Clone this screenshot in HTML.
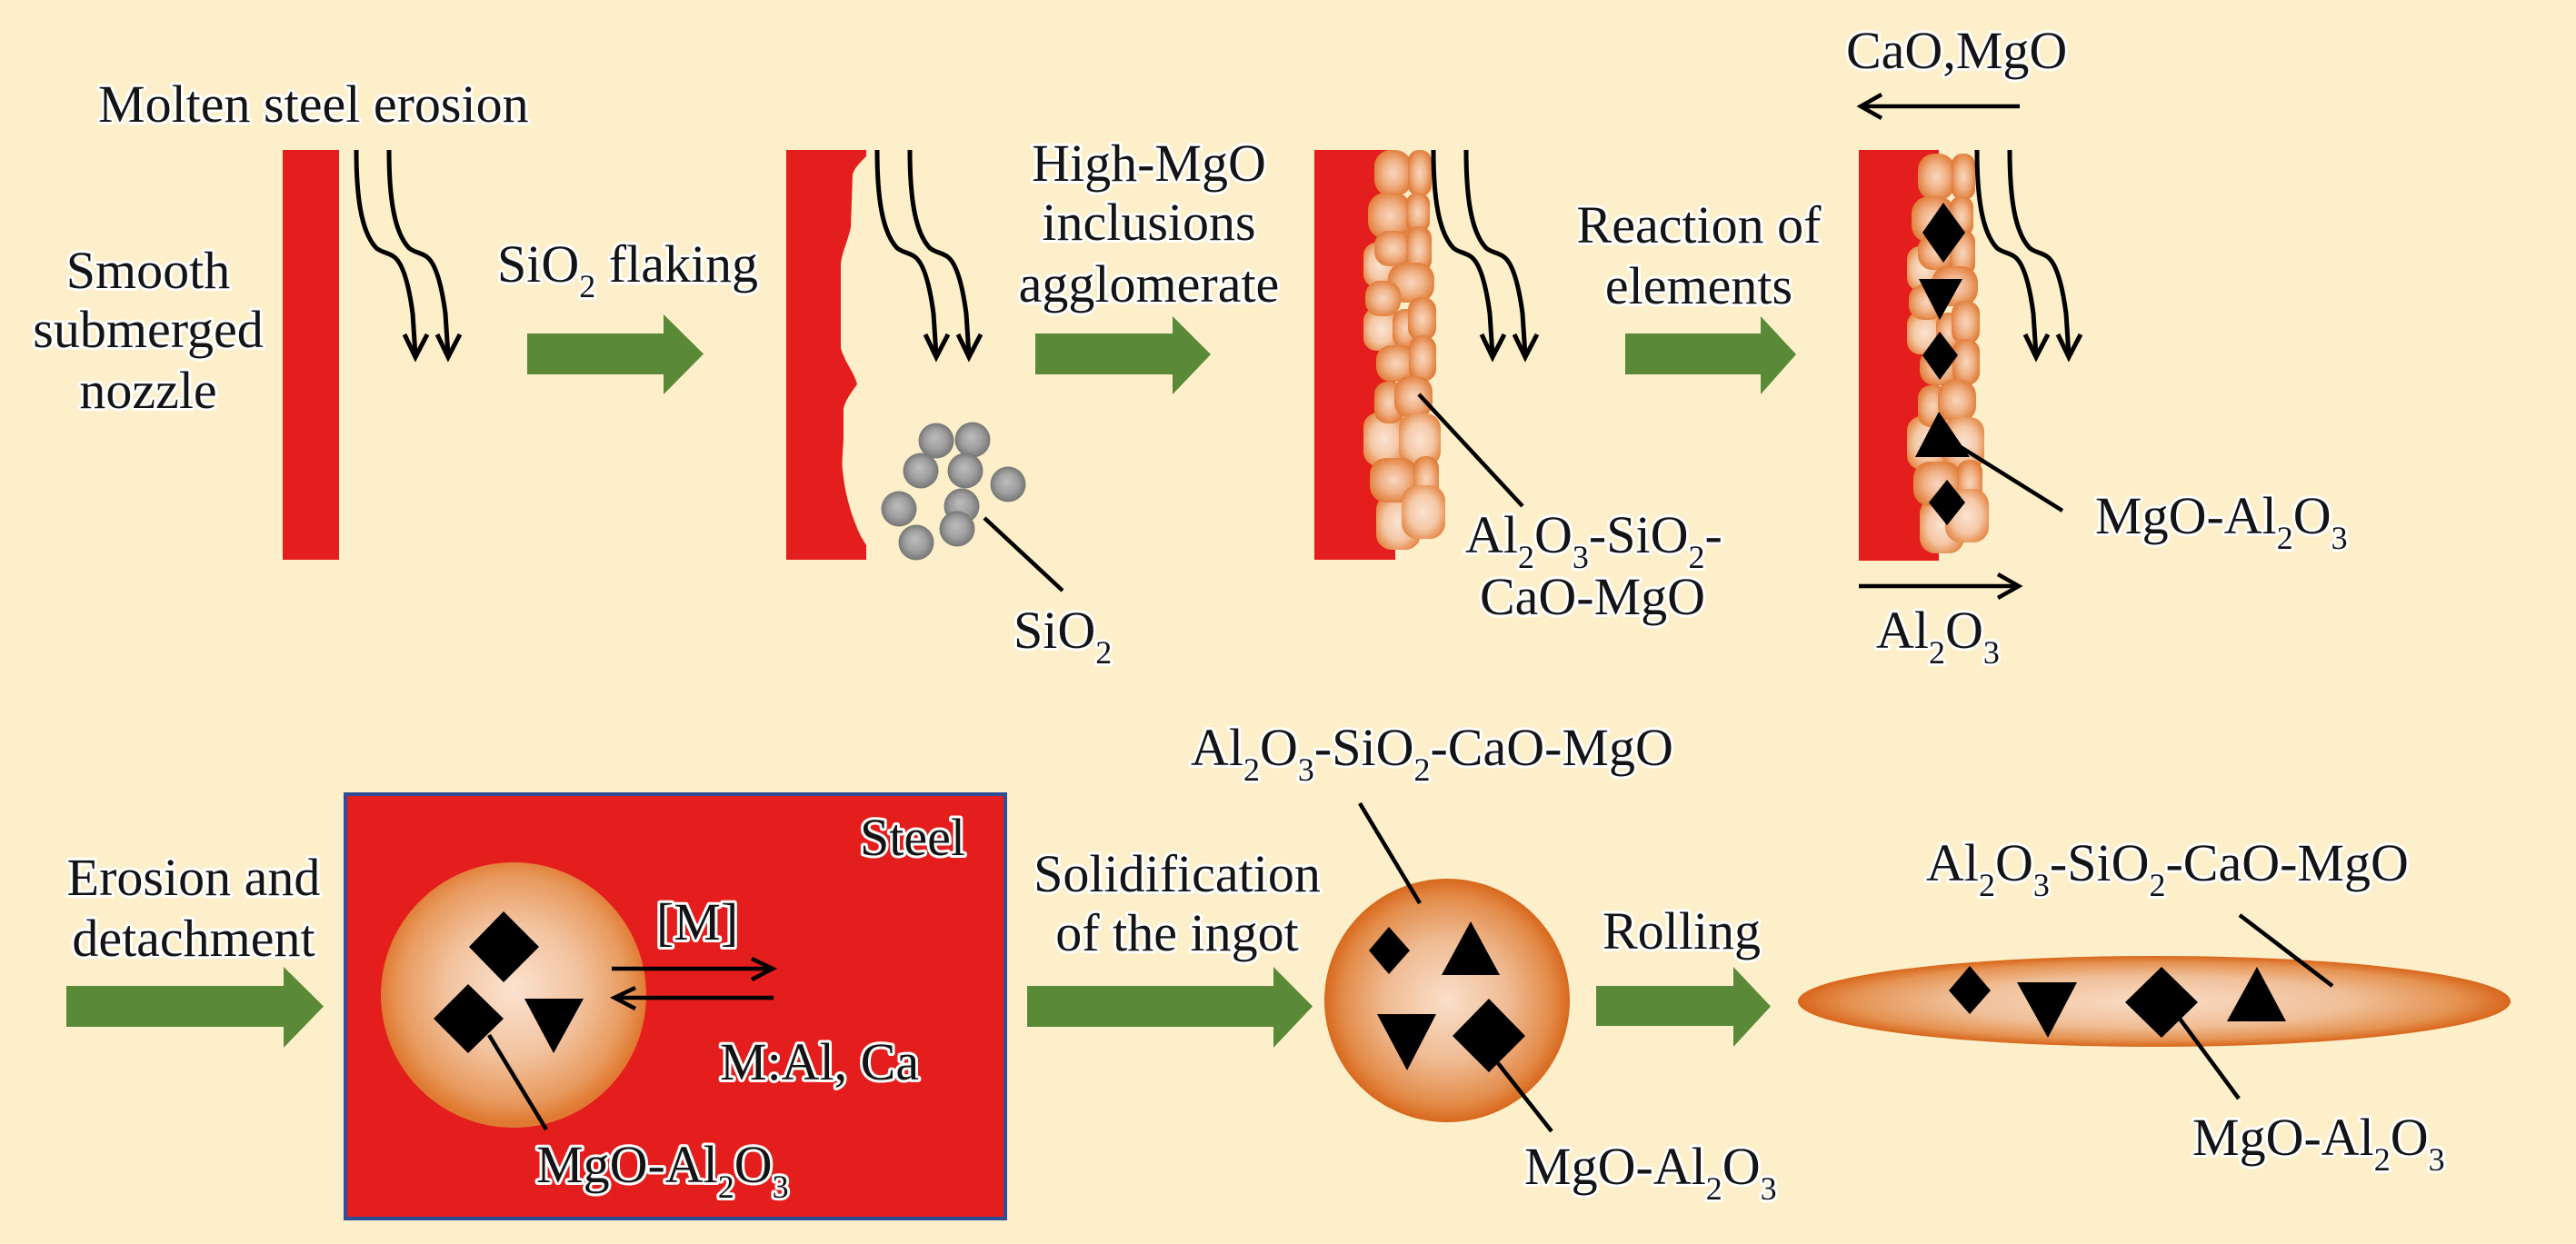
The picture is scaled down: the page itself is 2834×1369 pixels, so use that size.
<!DOCTYPE html>
<html>
<head>
<meta charset="utf-8">
<style>
  html,body{margin:0;padding:0;background:#fdefc9;}
  svg{display:block;}
  .t{font-family:"Liberation Serif","Times New Roman",serif;font-size:58px;fill:#141414;stroke:#ffffff;stroke-width:6px;paint-order:stroke;stroke-linejoin:round;}
  .s{font-size:36px;}
  .ln{stroke:#000;stroke-width:4.5;fill:none;stroke-linecap:butt;}
  .fl{stroke:#000;stroke-width:5;fill:none;}
</style>
</head>
<body>
<svg width="2834" height="1369" viewBox="0 0 2834 1369" xmlns="http://www.w3.org/2000/svg">
  <defs>
    <radialGradient id="bl" cx="50%" cy="50%" r="55%">
      <stop offset="0" stop-color="#f8d6bd"/>
      <stop offset="0.5" stop-color="#f0b287"/>
      <stop offset="1" stop-color="#e07a35"/>
    </radialGradient>
    <radialGradient id="bl2" cx="50%" cy="50%" r="55%">
      <stop offset="0" stop-color="#fbe4d2"/>
      <stop offset="0.6" stop-color="#f4c7a5"/>
      <stop offset="1" stop-color="#e68c4c"/>
    </radialGradient>
    <radialGradient id="gb" cx="50%" cy="50%" r="50%" fx="45%" fy="40%">
      <stop offset="0" stop-color="#bdbdbd"/>
      <stop offset="0.6" stop-color="#9e9e9e"/>
      <stop offset="1" stop-color="#767676"/>
    </radialGradient>
    <radialGradient id="ball" cx="50%" cy="48%" r="50%">
      <stop offset="0" stop-color="#fbe3d0"/>
      <stop offset="0.5" stop-color="#f2c39f"/>
      <stop offset="0.85" stop-color="#e89a5e"/>
      <stop offset="1" stop-color="#e07a32"/>
    </radialGradient>
    <radialGradient id="ball2" cx="50%" cy="50%" r="50%">
      <stop offset="0" stop-color="#fadfca"/>
      <stop offset="0.5" stop-color="#efbb93"/>
      <stop offset="0.85" stop-color="#e38c4a"/>
      <stop offset="1" stop-color="#d8681d"/>
    </radialGradient>
    <radialGradient id="ell" cx="50%" cy="50%" r="50%">
      <stop offset="0" stop-color="#f9dcc5"/>
      <stop offset="0.55" stop-color="#f0bf98"/>
      <stop offset="0.85" stop-color="#e59352"/>
      <stop offset="1" stop-color="#d8661c"/>
    </radialGradient>
    <g id="flow">
      <path class="fl" d="M0 0 C 0 50, 5 90, 22 108 C 28 113, 36 113, 42 118 C 52 126, 58 150, 62 180 L 65 226"/>
      <path class="fl" d="M53 203 L 65 228 L 78 203"/>
      <path class="fl" d="M36 0 C 36 50, 41 90, 58 108 C 64 113, 72 113, 78 118 C 88 126, 94 150, 98 180 L 101 226"/>
      <path class="fl" d="M89 203 L 101 228 L 114 203"/>
    </g>
    <g id="blobs">
      <rect x="1500" y="267" width="36" height="49" rx="14" fill="url(#bl2)"/>
      <rect x="1500" y="339" width="40" height="47" rx="14" fill="url(#bl2)"/>
      <rect x="1500" y="454" width="46" height="59" rx="16" fill="url(#bl2)"/>
      <rect x="1514" y="544" width="49" height="61" rx="17" fill="url(#bl2)"/>
      <rect x="1512" y="165" width="41" height="51" rx="18" fill="url(#bl)"/>
      <rect x="1549" y="165" width="26" height="51" rx="12" fill="url(#bl)"/>
      <rect x="1505" y="212" width="48" height="51" rx="19" fill="url(#bl)"/>
      <rect x="1547" y="212" width="26" height="44" rx="12" fill="url(#bl)"/>
      <rect x="1512" y="254" width="41" height="39" rx="16" fill="url(#bl)"/>
      <rect x="1547" y="249" width="28" height="51" rx="13" fill="url(#bl)"/>
      <rect x="1527" y="289" width="51" height="44" rx="18" fill="url(#bl)"/>
      <rect x="1502" y="309" width="39" height="39" rx="16" fill="url(#bl)"/>
      <rect x="1532" y="340" width="28" height="43" rx="13" fill="url(#bl)"/>
      <rect x="1549" y="327" width="31" height="48" rx="14" fill="url(#bl)"/>
      <rect x="1514" y="380" width="44" height="40" rx="16" fill="url(#bl)"/>
      <rect x="1550" y="369" width="30" height="51" rx="14" fill="url(#bl)"/>
      <rect x="1512" y="420" width="33" height="46" rx="14" fill="url(#bl)"/>
      <rect x="1534" y="414" width="42" height="46" rx="17" fill="url(#bl)"/>
      <rect x="1539" y="455" width="46" height="58" rx="16" fill="url(#bl2)"/>
      <rect x="1507" y="504" width="53" height="49" rx="18" fill="url(#bl)"/>
      <rect x="1555" y="502" width="28" height="51" rx="13" fill="url(#bl)"/>
      <rect x="1542" y="534" width="48" height="59" rx="17" fill="url(#bl2)"/>
    </g>
  </defs>

  <rect x="0" y="0" width="2834" height="1369" fill="#fdefc9"/>

  <!-- ===== TOP ROW ===== -->
  <text class="t" x="108" y="134">Molten steel erosion</text>
  <text class="t" x="163" y="317" text-anchor="middle">Smooth</text>
  <text class="t" x="163" y="382" text-anchor="middle">submerged</text>
  <text class="t" x="163" y="449" text-anchor="middle">nozzle</text>

  <!-- bar 1 -->
  <rect x="311" y="165" width="62" height="451" fill="#e41e1c"/>
  <use href="#flow" transform="translate(392,165)"/>

  <!-- arrow 1 -->
  <text class="t" x="547" y="310">SiO<tspan class="s" dy="17">2</tspan><tspan dy="-17"> flaking</tspan></text>
  <polygon points="580,367 730,367 730,346 774,389.5 730,434 730,412 580,412" fill="#5a8a38"/>

  <!-- bar 2 -->
  <path d="M865 165 L953 165 L953 172 C945 180,940 185,938 192 L936 250 C933 265,927 275,925 290 L925 383 C930 400,940 410,943 423 C938 430,930 440,928 450 L928 483 C927 500,926 510,927 517 C930 550,940 575,947 590 L953 600 L953 616 L865 616 Z" fill="#e41e1c"/>
  <use href="#flow" transform="translate(965,165)"/>
  <circle cx="1030" cy="485" r="19.5" fill="url(#gb)"/>
  <circle cx="1070" cy="484" r="19.5" fill="url(#gb)"/>
  <circle cx="1013" cy="518" r="19.5" fill="url(#gb)"/>
  <circle cx="1062" cy="518" r="19.5" fill="url(#gb)"/>
  <circle cx="1109" cy="533" r="19.5" fill="url(#gb)"/>
  <circle cx="989" cy="560" r="19.5" fill="url(#gb)"/>
  <circle cx="1058" cy="557" r="19.5" fill="url(#gb)"/>
  <circle cx="1053" cy="582" r="19.5" fill="url(#gb)"/>
  <circle cx="1008" cy="597" r="19.5" fill="url(#gb)"/>
  <line class="ln" x1="1083" y1="570" x2="1169" y2="650"/>
  <text class="t" x="1115" y="713">SiO<tspan class="s" dy="17">2</tspan></text>

  <!-- arrow 2 -->
  <text class="t" x="1264" y="199" text-anchor="middle">High-MgO</text>
  <text class="t" x="1264" y="264" text-anchor="middle">inclusions</text>
  <text class="t" x="1264" y="332" text-anchor="middle">agglomerate</text>
  <polygon points="1139,367 1290,367 1290,348 1332,390 1290,434 1290,412 1139,412" fill="#5a8a38"/>

  <!-- bar 3 -->
  <rect x="1446" y="165" width="89" height="451" fill="#e41e1c"/>
  <use href="#blobs"/>
  <use href="#flow" transform="translate(1577,165)"/>
  <line class="ln" x1="1561" y1="434" x2="1675" y2="557"/>
  <text class="t" x="1612" y="608">Al<tspan class="s" dy="17">2</tspan><tspan dy="-17">O</tspan><tspan class="s" dy="17">3</tspan><tspan dy="-17">-SiO</tspan><tspan class="s" dy="17">2</tspan><tspan dy="-17">-</tspan></text>
  <text class="t" x="1752" y="676" text-anchor="middle">CaO-MgO</text>

  <!-- arrow 3 -->
  <text class="t" x="1869" y="267" text-anchor="middle">Reaction of</text>
  <text class="t" x="1869" y="334" text-anchor="middle">elements</text>
  <polygon points="1788,367 1937,367 1937,348 1976,390 1937,434 1937,412 1788,412" fill="#5a8a38"/>

  <!-- bar 4 -->
  <text class="t" x="2031" y="75">CaO,MgO</text>
  <line class="ln" x1="2222" y1="117" x2="2048" y2="117"/>
  <path class="ln" d="M2070 104 L2047 117 L2070 130"/>
  <rect x="2045" y="165" width="88" height="452" fill="#e41e1c"/>
  <use href="#blobs" transform="translate(598,4)"/>
  <use href="#flow" transform="translate(2175,165)"/>
  <polygon points="2138,223 2162,256 2138,289 2115,256" fill="#000"/>
  <polygon points="2111,307 2159,307 2134,352" fill="#000"/>
  <polygon points="2134,365 2154,391 2134,418 2115,391" fill="#000"/>
  <polygon points="2133,453 2167,503 2107,503" fill="#000"/>
  <polygon points="2142,528 2162,553 2142,578 2122,553" fill="#000"/>
  <line class="ln" x1="2157" y1="492" x2="2269" y2="562"/>
  <text class="t" x="2305" y="587">MgO-Al<tspan class="s" dy="17">2</tspan><tspan dy="-17">O</tspan><tspan class="s" dy="17">3</tspan></text>
  <line class="ln" x1="2045" y1="645" x2="2220" y2="645"/>
  <path class="ln" d="M2198 632 L2221 645 L2198 658"/>
  <text class="t" x="2064" y="713">Al<tspan class="s" dy="17">2</tspan><tspan dy="-17">O</tspan><tspan class="s" dy="17">3</tspan></text>

  <!-- ===== BOTTOM ROW ===== -->
  <text class="t" x="213" y="985" text-anchor="middle">Erosion and</text>
  <text class="t" x="213" y="1052" text-anchor="middle">detachment</text>
  <polygon points="73,1085 312,1085 312,1064 356,1107.5 312,1153 312,1130 73,1130" fill="#5a8a38"/>

  <!-- steel box -->
  <rect x="380" y="874" width="726" height="467" fill="#e41e1c" stroke="#2b4e96" stroke-width="4"/>
  <text class="t" x="946" y="941">Steel</text>
  <circle cx="565" cy="1095" r="146" fill="url(#ball)"/>
  <polygon points="554,1003 593,1042 554,1081 516,1042" fill="#000"/>
  <polygon points="515,1083 554,1121 515,1159 477,1121" fill="#000"/>
  <polygon points="577,1099 642,1099 609,1159" fill="#000"/>
  <line class="ln" x1="538" y1="1139" x2="601" y2="1243"/>
  <text class="t" x="722" y="1034">[M]</text>
  <line class="ln" x1="673" y1="1066" x2="849" y2="1066"/>
  <path class="ln" d="M827 1055 L850 1066 L827 1078"/>
  <line class="ln" x1="677" y1="1098" x2="851" y2="1098"/>
  <path class="ln" d="M699 1087 L676 1098 L699 1110"/>
  <text class="t" x="792" y="1188">M:Al, Ca</text>
  <text class="t" x="590" y="1301">MgO-Al<tspan class="s" dy="17">2</tspan><tspan dy="-17">O</tspan><tspan class="s" dy="17">3</tspan></text>

  <!-- arrow 5 -->
  <text class="t" x="1295" y="981" text-anchor="middle">Solidification</text>
  <text class="t" x="1295" y="1046" text-anchor="middle">of the ingot</text>
  <polygon points="1130,1085 1401,1085 1401,1064 1444,1107.5 1401,1153 1401,1130 1130,1130" fill="#5a8a38"/>

  <!-- ball -->
  <text class="t" x="1310" y="842">Al<tspan class="s" dy="17">2</tspan><tspan dy="-17">O</tspan><tspan class="s" dy="17">3</tspan><tspan dy="-17">-SiO</tspan><tspan class="s" dy="17">2</tspan><tspan dy="-17">-CaO-MgO</tspan></text>
  <ellipse cx="1592" cy="1101" rx="135" ry="134" fill="url(#ball2)"/>
  <line class="ln" x1="1496" y1="884" x2="1562" y2="994"/>
  <polygon points="1528,1020 1551,1046 1528,1072 1506,1046" fill="#000"/>
  <polygon points="1618,1014 1650,1073 1586,1073" fill="#000"/>
  <polygon points="1515,1116 1580,1116 1548,1178" fill="#000"/>
  <polygon points="1638,1099 1678,1140 1638,1180 1598,1140" fill="#000"/>
  <line class="ln" x1="1648" y1="1170" x2="1707" y2="1245"/>
  <text class="t" x="1677" y="1303">MgO-Al<tspan class="s" dy="17">2</tspan><tspan dy="-17">O</tspan><tspan class="s" dy="17">3</tspan></text>

  <!-- arrow 6 -->
  <text class="t" x="1763" y="1044">Rolling</text>
  <polygon points="1756,1085 1907,1085 1907,1064 1948,1107.5 1907,1152 1907,1129 1756,1129" fill="#5a8a38"/>

  <!-- rolled ellipse -->
  <text class="t" x="2119" y="969">Al<tspan class="s" dy="17">2</tspan><tspan dy="-17">O</tspan><tspan class="s" dy="17">3</tspan><tspan dy="-17">-SiO</tspan><tspan class="s" dy="17">2</tspan><tspan dy="-17">-CaO-MgO</tspan></text>
  <ellipse cx="2370" cy="1102" rx="392" ry="50" fill="url(#ell)"/>
  <line class="ln" x1="2464" y1="1007" x2="2566" y2="1085"/>
  <polygon points="2167,1063 2190,1090 2167,1116 2144,1090" fill="#000"/>
  <polygon points="2219,1081 2285,1081 2253,1142" fill="#000"/>
  <polygon points="2378,1064 2418,1103 2378,1142 2338,1103" fill="#000"/>
  <polygon points="2483,1064 2515,1124 2450,1124" fill="#000"/>
  <line class="ln" x1="2398" y1="1121" x2="2463" y2="1209"/>
  <text class="t" x="2412" y="1271">MgO-Al<tspan class="s" dy="17">2</tspan><tspan dy="-17">O</tspan><tspan class="s" dy="17">3</tspan></text>
</svg>
</body>
</html>
